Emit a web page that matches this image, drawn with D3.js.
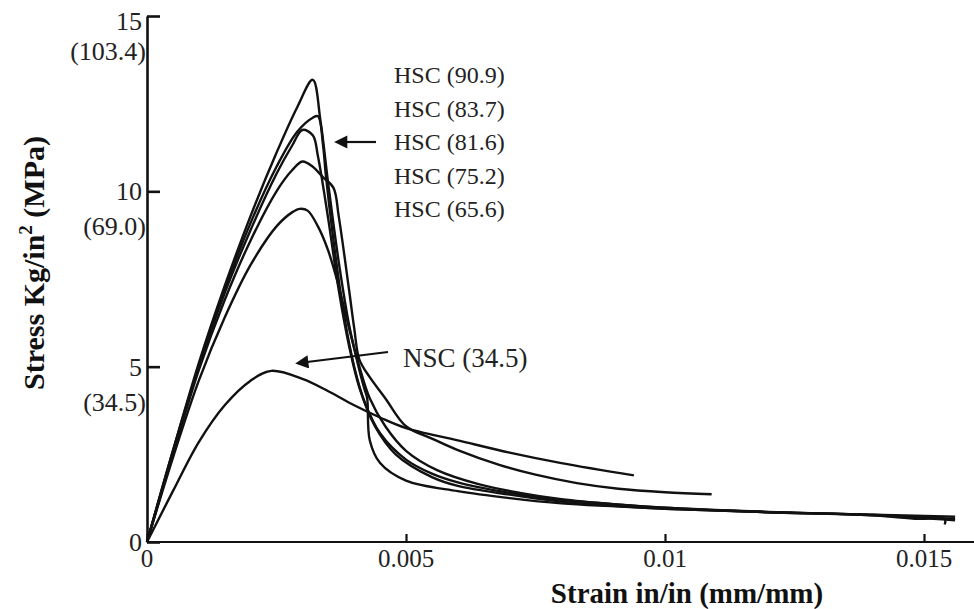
<!DOCTYPE html>
<html>
<head>
<meta charset="utf-8">
<script src="https://cdn.jsdelivr.net/npm/d3@7"></script>
<style>
  body { margin: 0; background: #fff; }
  svg { display: block; font-family: "Liberation Serif", "DejaVu Serif", serif; }
</style>
</head>
<body>
<svg id="chart" width="974" height="609"></svg>
<script>
const width = 974, height = 609;

// tick values / labels
const xTicks = [0, 0.005, 0.01, 0.015];
const xTickLabels = ["0", "0.005", "0.01", "0.015"];
const yTicks = [0, 5, 10, 15];
const yTickMPa = ["", "(34.5)", "(69.0)", "(103.4)"];

// curves (strain in/in, stress ksi)
const strainA = [0, .0005, .001, .0015, .002, .0025, .0029, .0032, .00335, .0035, .0037, .0039, .0041, .0042, .00425, .0043, .0045, .005, .006, .007, .008, .010, .012, .014, .0156];
const stressA = [0, 2.6, 5.1, 7.3, 9.3, 11.1, 12.4, 13.18, 12.0, 10.2, 8.0, 6.2, 4.9, 4.35, 4.1, 2.9, 2.25, 1.75, 1.45, 1.25, 1.1, 0.95, 0.85, 0.78, 0.72];

const strainB = [0, .0005, .001, .0015, .002, .0025, .0029, .0032, .0033, .0034, .00345, .0036, .0038, .004, .0042, .0045, .005, .0055, .006, .007, .008, .009, .010, .012, .014, .0156];
const stressB = [0, 2.6, 5.0, 7.2, 9.1, 10.7, 11.7, 12.1, 12.14, 11.3, 10.5, 8.6, 6.5, 5.0, 4.0, 3.1, 2.35, 1.95, 1.7, 1.4, 1.2, 1.08, 0.98, 0.85, 0.78, 0.65];

const strainC = [0, .0005, .001, .0015, .002, .0025, .0028, .0030, .0032, .0033, .0035, .0037, .0039, .0041, .0044, .0048, .0055, .006, .007, .008, .009, .010, .012, .014, .0156];
const stressC = [0, 2.55, 5.0, 7.1, 8.9, 10.5, 11.3, 11.75, 11.6, 11.0, 9.2, 7.2, 5.6, 4.4, 3.3, 2.5, 1.85, 1.6, 1.35, 1.15, 1.03, 0.95, 0.85, 0.76, 0.62];

const strainD = [0, .0005, .001, .0015, .002, .0025, .0028, .0030, .0032, .0034, .0036, .0037, .0039, .0040, .0041, .0043, .0046, .005, .0055, .006, .0068, .0075, .0083, .0091, .0100, .0109];
const stressD = [0, 2.5, 4.9, 6.9, 8.6, 10.0, 10.6, 10.85, 10.7, 10.4, 10.1, 9.3, 7.2, 6.1, 5.2, 4.7, 4.1, 3.3, 2.95, 2.62, 2.2, 1.92, 1.68, 1.52, 1.42, 1.36];

const strainE = [0, .0005, .001, .0015, .002, .0025, .0028, .00295, .0031, .0033, .0035, .0037, .0039, .0041, .0043, .0046, .005, .0056, .0064, .0072, .008, .009, .010, .012, .014, .0149, .0154, .0154];
const stressE = [0, 2.4, 4.6, 6.4, 7.9, 9.0, 9.4, 9.5, 9.45, 9.0, 8.3, 7.3, 6.1, 5.0, 4.1, 3.3, 2.6, 2.05, 1.65, 1.4, 1.22, 1.08, 0.98, 0.86, 0.76, 0.66, 0.66, 0.5];

const strainNSC = [0, .0005, .001, .0015, .002, .0024, .003, .0035, .004, .0045, .005, .006, .007, .008, .0094];
const stressNSC = [0, 1.45, 2.85, 3.9, 4.6, 4.88, 4.65, 4.3, 3.9, 3.55, 3.25, 2.9, 2.55, 2.25, 1.9];

const hscLabels = ["HSC (90.9)", "HSC (83.7)", "HSC (81.6)", "HSC (75.2)", "HSC (65.6)"];
const nscLabel = "NSC (34.5)";

const svg = d3.select("#chart");

const x = d3.scaleLinear().domain([0, 0.015]).range([147, 924]);
const y = d3.scaleLinear().domain([0, 15]).range([542, 16]);

const curves = [
  [strainA, stressA], [strainB, stressB], [strainC, stressC],
  [strainD, stressD], [strainE, stressE], [strainNSC, stressNSC]
].map(([s, t]) => s.map((v, i) => [v, t[i]]));

// axes
const xAxis = d3.axisBottom(x).tickValues(xTicks).tickSizeInner(-8).tickSizeOuter(0).tickFormat("");
svg.append("g")
  .attr("transform", `translate(0,${y(0)})`)
  .call(xAxis)
  .call(g => g.select(".domain").attr("d", `M${x(0)},0H${width}`))
  .call(g => g.selectAll("path, line").attr("stroke", "#111").attr("stroke-width", 2.2));

const yAxis = d3.axisLeft(y).tickValues(yTicks).tickSizeInner(-13).tickSizeOuter(0).tickFormat("");
svg.append("g")
  .attr("transform", `translate(${x(0)},0)`)
  .call(yAxis)
  .call(g => g.selectAll("path, line").attr("stroke", "#111").attr("stroke-width", 2.6));

// x tick labels
svg.selectAll(".xlab")
  .data(xTicks)
  .enter().append("text")
  .attr("x", d => x(d))
  .attr("y", y(0) + 25)
  .attr("text-anchor", "middle")
  .attr("font-size", 25)
  .attr("fill", "#222")
  .text((d, i) => xTickLabels[i]);

// y tick labels
svg.selectAll(".ylab")
  .data(yTicks)
  .enter().append("text")
  .attr("x", x(0) - 5)
  .attr("y", d => y(d) + (d === 15 ? 14 : 9))
  .attr("text-anchor", "end")
  .attr("font-size", 26)
  .attr("fill", "#222")
  .text(d => d);

svg.selectAll(".ylab2")
  .data(yTicks.filter((d, i) => yTickMPa[i]))
  .enter().append("text")
  .attr("x", x(0) - 1)
  .attr("y", d => y(d) + 44)
  .attr("text-anchor", "end")
  .attr("font-size", 26)
  .attr("fill", "#222")
  .text(d => yTickMPa[yTicks.indexOf(d)]);

// curves
const line = d3.line()
  .x(d => x(d[0]))
  .y(d => y(d[1]))
  .curve(d3.curveCatmullRom.alpha(0.5));

svg.selectAll(".curve")
  .data(curves)
  .enter().append("path")
  .attr("d", line)
  .attr("fill", "none")
  .attr("stroke", "#111")
  .attr("stroke-width", 2.4)
  .attr("stroke-linejoin", "round");

// annotations
svg.append("defs").append("marker")
  .attr("id", "arrow")
  .attr("viewBox", "0 0 10 10")
  .attr("refX", 1).attr("refY", 5)
  .attr("markerWidth", 7).attr("markerHeight", 6)
  .attr("orient", "auto-start-reverse")
  .append("path").attr("d", "M0,0L10,5L0,10z").attr("fill", "#111");

svg.append("line")
  .attr("x1", 376).attr("y1", 142).attr("x2", 346).attr("y2", 142)
  .attr("stroke", "#111").attr("stroke-width", 2.2)
  .attr("marker-end", "url(#arrow)");

svg.append("line")
  .attr("x1", 388).attr("y1", 352).attr("x2", 307).attr("y2", 362)
  .attr("stroke", "#111").attr("stroke-width", 2.2)
  .attr("marker-end", "url(#arrow)");

svg.selectAll(".hsc")
  .data(hscLabels)
  .enter().append("text")
  .attr("x", 394)
  .attr("y", (d, i) => 83 + i * 33.5)
  .attr("font-size", 24)
  .attr("fill", "#222")
  .text(d => d);

svg.append("text")
  .attr("x", 403).attr("y", 367)
  .attr("font-size", 27)
  .attr("fill", "#222")
  .text(nscLabel);

// axis titles
svg.append("text")
  .attr("x", 687).attr("y", 603)
  .attr("text-anchor", "middle")
  .attr("font-size", 29)
  .attr("font-weight", "bold")
  .attr("fill", "#111")
  .text("Strain in/in (mm/mm)");

const yt = svg.append("text")
  .attr("transform", "translate(44,263) rotate(-90)")
  .attr("text-anchor", "middle")
  .attr("font-size", 30)
  .attr("font-weight", "bold")
  .attr("fill", "#111");
yt.append("tspan").text("Stress Kg/in");
yt.append("tspan").attr("dy", -12).attr("font-size", 19).text("2");
yt.append("tspan").attr("dy", 12).text(" (MPa)");
</script>
</body>
</html>
